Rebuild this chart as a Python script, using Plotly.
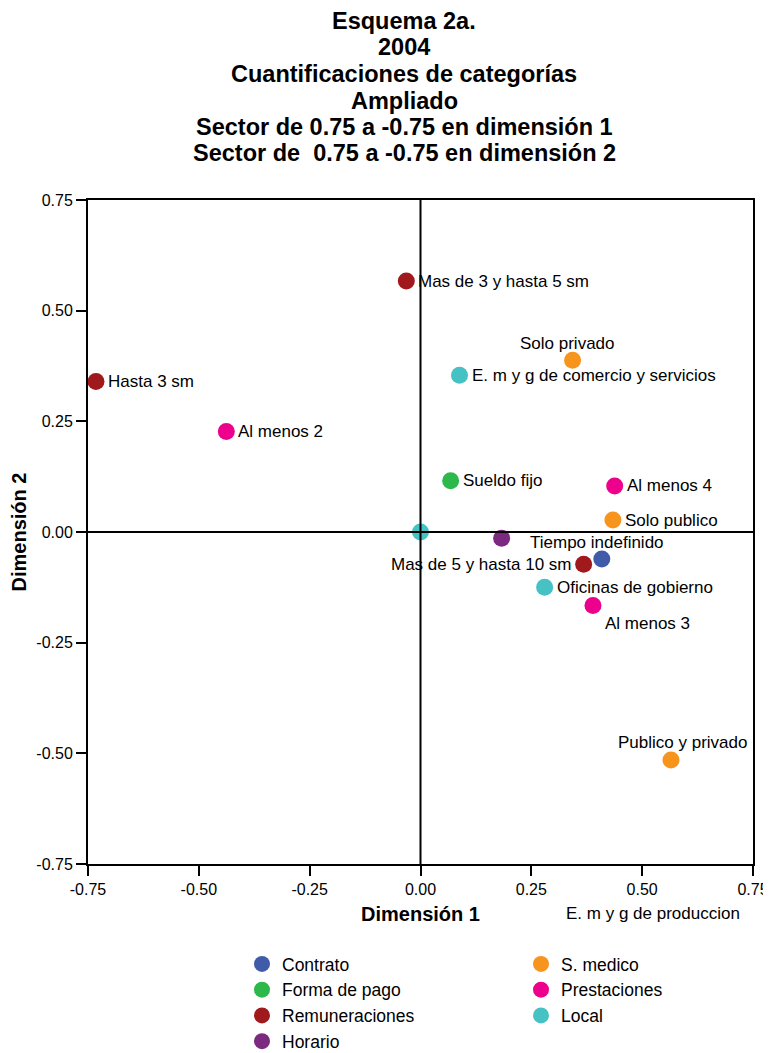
import plotly.graph_objects as go

# ---------------- Data ----------------
groups_col1 = ["Contrato", "Forma de pago", "Remuneraciones", "Horario"]
groups_col2 = ["S. medico", "Prestaciones", "Local"]
colors = {"Contrato": "#3F5BAA", "S. medico": "#F7941D", "Forma de pago": "#2DB84B",
          "Prestaciones": "#EC008C", "Remuneraciones": "#A0191C", "Local": "#47C2C4",
          "Horario": "#7B2A7F"}

labels = ["Mas de 3 y hasta 5 sm", "Solo privado", "E. m y g de comercio y servicios", "Hasta 3 sm",
          "Al menos 2", "Sueldo fijo", "Al menos 4", "Solo publico", "", "",
          "Mas de 5 y hasta 10 sm", "Tiempo indefinido", "Oficinas de gobierno", "Al menos 3",
          "Publico y privado"]
dim1 = [-0.032, 0.343, 0.088, -0.732, -0.438, 0.068, 0.438, 0.434, 0.0, 0.183, 0.368, 0.409, 0.280, 0.389, 0.565]
dim2 = [0.567, 0.388, 0.354, 0.340, 0.227, 0.116, 0.104, 0.027, 0.0, -0.014, -0.073, -0.061, -0.125, -0.166, -0.515]
group = ["Remuneraciones", "S. medico", "Local", "Remuneraciones", "Prestaciones", "Forma de pago",
         "Prestaciones", "S. medico", "Local", "Horario", "Remuneraciones", "Contrato", "Local",
         "Prestaciones", "S. medico"]
# label placement (style)
anchors = ["r", "t", "r", "r", "r", "r", "r", "r", "r", "r", "l", "t", "r", "br", "t2"]

# label of a point lying outside the zoomed range
out_labels = ["E. m y g de produccion"]
out_x = [0.525]
out_y = [-0.861]

ticks = [-0.75, -0.5, -0.25, 0.0, 0.25, 0.5, 0.75]
tick_text = ["-0.75", "-0.50", "-0.25", "0.00", "0.25", "0.50", "0.75"]

title_lines = ["Esquema 2a.", "2004", "Cuantificaciones de categorías", "Ampliado",
               "Sector de 0.75 a -0.75 en dimensión 1", "Sector de  0.75 a -0.75 en dimensión 2"]

# ---------------- Layout helpers ----------------
OFF = 8  # page body margin
W, H = 771 - OFF, 1053 - OFF
ML, MR, MT, MB = 88 - OFF, 18, 200 - OFF, 189
PW, PH = W - ML - MR, H - MT - MB
XR = [-0.75, 0.75]
YR = [-0.75, 0.75]
FONT = "Liberation Sans, Arial, sans-serif"


def page_y_to_paper(py):
    return (H - MB - (py - OFF)) / PH


def page_x_to_paper(px):
    return (px - OFF - ML) / PW


def page_y_to_container(py):
    return 1 - (py - OFF) / H


fig = go.Figure()
for g in groups_col1 + groups_col2:
    xs = [x for x, gg in zip(dim1, group) if gg == g]
    ys = [y for y, gg in zip(dim2, group) if gg == g]
    fig.add_trace(go.Scatter(x=xs, y=ys, mode="markers", name=g,
                             legend="legend" if g in groups_col1 else "legend2",
                             marker=dict(size=17, color=colors[g], line=dict(width=0)),
                             cliponaxis=False))

for lab, x, y, a in zip(labels, dim1, dim2, anchors):
    if not lab:
        continue
    if a == "r":
        kw = dict(xanchor="left", yanchor="middle", xshift=10, yshift=0)
    elif a == "l":
        kw = dict(xanchor="right", yanchor="middle", xshift=-11, yshift=0)
    elif a == "t":
        kw = dict(xanchor="center", yanchor="middle", xshift=-5, yshift=17)
    elif a == "t2":
        kw = dict(xanchor="center", yanchor="middle", xshift=12, yshift=17)
    else:  # br
        kw = dict(xanchor="left", yanchor="middle", xshift=10, yshift=-18)
    fig.add_annotation(x=x, y=y, text=lab, showarrow=False,
                       font=dict(family=FONT, size=17, color="black"), **kw)

for lab, x, y in zip(out_labels, out_x, out_y):
    fig.add_annotation(x=(x - XR[0]) / (XR[1] - XR[0]), y=(y - YR[0]) / (YR[1] - YR[0]),
                       xref="paper", yref="paper", text=lab, showarrow=False,
                       xanchor="center", yanchor="middle",
                       font=dict(family=FONT, size=17, color="black"))

# title lines
for i, t in enumerate(title_lines):
    fig.add_annotation(x=page_x_to_paper(404), y=page_y_to_paper(21 + 26.5 * i),
                       xref="paper", yref="paper", text="<b>" + t + "</b>", showarrow=False,
                       xanchor="center", yanchor="middle",
                       font=dict(family=FONT, size=23.5, color="black"))

# axis cross lines at zero, drawn above the markers
fig.add_shape(type="line", xref="x", yref="y domain", x0=0, x1=0, y0=0, y1=1,
              line=dict(color="black", width=2), layer="above")
fig.add_shape(type="line", xref="x domain", yref="y", x0=0, x1=1, y0=0, y1=0,
              line=dict(color="black", width=2), layer="above")

axis_common = dict(tickvals=ticks, ticktext=tick_text, showgrid=False, zeroline=False,
                   showline=True, linecolor="black", linewidth=2, mirror=True,
                   ticks="outside", ticklen=10, tickwidth=2, tickcolor="black",
                   tickfont=dict(family=FONT, size=16, color="black"))

legend_common = dict(orientation="v", xanchor="left", y=page_y_to_container(946),
                     yref="container", yanchor="top",
                     font=dict(family=FONT, size=17.5, color="black"), itemsizing="trace",
                     bgcolor="rgba(0,0,0,0)")

fig.update_layout(
    width=W, height=H,
    paper_bgcolor="white", plot_bgcolor="white",
    margin=dict(l=ML, r=MR, t=MT, b=MB, autoexpand=False),
    xaxis=dict(range=XR, **axis_common,
               title=dict(text="<b>Dimensión 1</b>", standoff=10,
                          font=dict(family=FONT, size=20, color="black"))),
    yaxis=dict(range=YR, **axis_common,
               title=dict(text="<b>Dimensión 2</b>", standoff=5,
                          font=dict(family=FONT, size=20, color="black"))),
    showlegend=True,
    legend=dict(x=page_x_to_paper(242), **legend_common),
    legend2=dict(x=page_x_to_paper(521), **legend_common),
)

fig.write_html("out.html")
